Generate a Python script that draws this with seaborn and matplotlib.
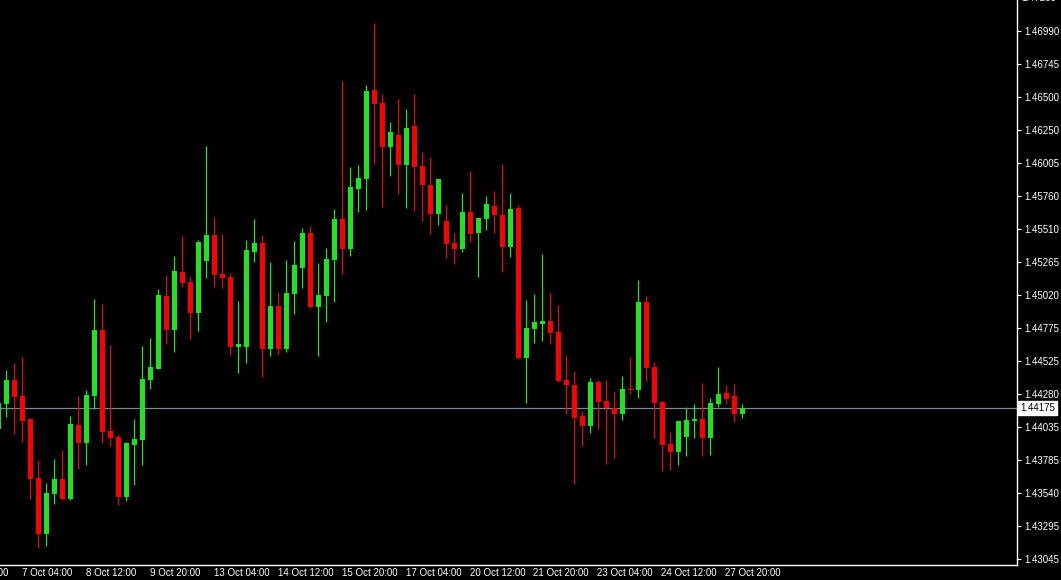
import numpy as np
import matplotlib
matplotlib.use("Agg")
import matplotlib.pyplot as plt
import matplotlib.transforms as mtransforms
import seaborn as sns

# H4 candles, oldest first (first one is cut by the left edge)
opens = [1.44015, 1.44202, 1.44381, 1.44262, 1.44090, 1.43649, 1.43231, 1.43530, 1.43642, 1.43493,
         1.44045, 1.43911, 1.44262, 1.44755, 1.44000, 1.43956, 1.43507, 1.43896, 1.43933, 1.44381,
         1.44464, 1.45009, 1.44755, 1.45188, 1.45115, 1.44882, 1.45270, 1.45465, 1.45173, 1.45151,
         1.44628, 1.44628, 1.45338, 1.45405, 1.44613, 1.44934, 1.44613, 1.45024, 1.45218, 1.45480,
         1.44927, 1.45009, 1.45278, 1.45584, 1.45360, 1.45808, 1.45885, 1.46550, 1.46453, 1.46124,
         1.46214, 1.45989, 1.46281, 1.45982, 1.45838, 1.45621, 1.45569, 1.45405, 1.45360, 1.45636,
         1.45480, 1.45584, 1.45681, 1.45614, 1.45375, 1.45666, 1.44546, 1.44762, 1.44800, 1.44822,
         1.44740, 1.44381, 1.44344, 1.44113, 1.44038, 1.44366, 1.44225, 1.44172, 1.44127, 1.44314,
         1.44307, 1.44964, 1.44479, 1.44217, 1.43903, 1.43844, 1.43956, 1.44075, 1.44090, 1.43948,
         1.44202, 1.44284, 1.44262, 1.44127]
highs = [1.44210, 1.44456, 1.44508, 1.44553, 1.44090, 1.43784, 1.43612, 1.43791, 1.43861, 1.44113,
         1.44262, 1.44307, 1.44987, 1.44949, 1.44643, 1.43978, 1.43918, 1.44090, 1.44635, 1.44695,
         1.45061, 1.45166, 1.45308, 1.45457, 1.45151, 1.45427, 1.46131, 1.45599, 1.45472, 1.45181,
         1.44972, 1.45427, 1.45584, 1.45465, 1.45263, 1.45039, 1.45278, 1.45420, 1.45517, 1.45532,
         1.45255, 1.45367, 1.45659, 1.46617, 1.45975, 1.45989, 1.46587, 1.47050, 1.46520, 1.46311,
         1.46482, 1.46408, 1.46520, 1.46087, 1.46049, 1.45885, 1.45689, 1.45480, 1.45778, 1.45945,
         1.45592, 1.45756, 1.45793, 1.45997, 1.45778, 1.45689, 1.44979, 1.45024, 1.45323, 1.45031,
         1.44942, 1.44568, 1.44449, 1.44150, 1.44396, 1.44381, 1.44381, 1.44299, 1.44411, 1.44553,
         1.45128, 1.45009, 1.44516, 1.44225, 1.43993, 1.44075, 1.44180, 1.44202, 1.44359, 1.44247,
         1.44479, 1.44344, 1.44352, 1.44202]
lows = [1.44015, 1.44105, 1.43978, 1.43918, 1.43493, 1.43126, 1.43141, 1.43455, 1.43485, 1.43485,
        1.43717, 1.43746, 1.44165, 1.43911, 1.43888, 1.43448, 1.43478, 1.43597, 1.43746, 1.44314,
        1.44464, 1.44650, 1.44591, 1.45076, 1.44688, 1.44747, 1.45143, 1.45076, 1.45069, 1.44568,
        1.44434, 1.44508, 1.45263, 1.44404, 1.44561, 1.44576, 1.44591, 1.44874, 1.45069, 1.44919,
        1.44561, 1.44815, 1.44964, 1.45173, 1.45308, 1.45636, 1.45651, 1.45997, 1.45674, 1.45907,
        1.45771, 1.45666, 1.45644, 1.45569, 1.45472, 1.45539, 1.45293, 1.45248, 1.45338, 1.45412,
        1.45151, 1.45502, 1.45480, 1.45188, 1.45300, 1.44538, 1.44210, 1.44658, 1.44673, 1.44650,
        1.44366, 1.44127, 1.43605, 1.43888, 1.43986, 1.44015, 1.43754, 1.43799, 1.44083, 1.44277,
        1.44247, 1.44374, 1.43948, 1.43702, 1.43709, 1.43746, 1.43814, 1.43948, 1.43814, 1.43821,
        1.44180, 1.44202, 1.44068, 1.44098]
closes = [1.44210, 1.44381, 1.44254, 1.44075, 1.43642, 1.43231, 1.43537, 1.43642, 1.43493, 1.44053,
          1.43911, 1.44269, 1.44755, 1.43993, 1.43948, 1.43507, 1.43911, 1.43941, 1.44389, 1.44479,
          1.45016, 1.44755, 1.45196, 1.45106, 1.44882, 1.45412, 1.45465, 1.45166, 1.45143, 1.44628,
          1.44650, 1.45353, 1.45405, 1.44613, 1.44934, 1.44613, 1.45031, 1.45240, 1.45480, 1.44927,
          1.45016, 1.45285, 1.45584, 1.45360, 1.45823, 1.45892, 1.46542, 1.46445, 1.46124, 1.46236,
          1.45989, 1.46266, 1.45975, 1.45838, 1.45621, 1.45885, 1.45397, 1.45360, 1.45636, 1.45472,
          1.45592, 1.45696, 1.45614, 1.45375, 1.45659, 1.44546, 1.44770, 1.44815, 1.44822, 1.44732,
          1.44374, 1.44344, 1.44098, 1.44038, 1.44366, 1.44217, 1.44172, 1.44127, 1.44314, 1.44307,
          1.44964, 1.44471, 1.44210, 1.43896, 1.43844, 1.44075, 1.44083, 1.44090, 1.43948, 1.44210,
          1.44277, 1.44239, 1.44127, 1.44175]

bid = 1.44175

price_ticks = [1.46990, 1.46745, 1.46500, 1.46250, 1.46005, 1.45760, 1.45510, 1.45265, 1.45020,
               1.44775, 1.44525, 1.44280, 1.44035, 1.43785, 1.43540, 1.43295, 1.43045]
time_labels = ["6 Oct 20:00", "7 Oct 04:00", "8 Oct 12:00", "9 Oct 20:00", "13 Oct 04:00",
               "14 Oct 12:00", "15 Oct 20:00", "17 Oct 04:00", "20 Oct 12:00", "21 Oct 20:00",
               "23 Oct 04:00", "24 Oct 12:00", "27 Oct 20:00"]
time_label_bars = [-5, 3, 11, 19, 27, 35, 43, 51, 59, 67, 75, 83, 91]

sns.set_theme(style="dark", rc={"axes.facecolor": "black", "figure.facecolor": "black",
                                "axes.edgecolor": "white", "text.color": "white",
                                "xtick.color": "white", "ytick.color": "white"})
plt.rcParams["font.family"] = ["Liberation Sans", "DejaVu Sans"]
FS = 7.0

o = np.array(opens)
h = np.array(highs)
l = np.array(lows)
c = np.array(closes)
x = np.arange(len(o))
up = c >= o

fig = plt.figure(figsize=(10.61, 5.80), dpi=100)
ax = fig.add_axes([0, 15 / 580, 1017 / 1061, 565 / 580])

# wicks
ax.vlines(x[up], l[up], h[up], color="#00ff00", lw=0.8, zorder=2)
ax.vlines(x[~up], l[~up], h[~up], color="#ff0000", lw=0.8, zorder=2)
# bodies
body_low = np.minimum(o, c)
body_h = np.maximum(np.abs(c - o), 0.00008)
ax.bar(x[up], body_h[up], bottom=body_low[up], width=0.62, color="#1ee41e", lw=0, zorder=3)
ax.bar(x[~up], body_h[~up], bottom=body_low[~up], width=0.62, color="#ff0000", lw=0, zorder=3)

# bid line
ax.axhline(bid, color="#778899", lw=0.9, zorder=1)

ax.set_xlim(0.21, 127.34)
ax.set_ylim(1.43001, 1.47222)
ax.grid(False)

for s in ["top", "left"]:
    ax.spines[s].set_visible(False)
for s in ["right", "bottom"]:
    ax.spines[s].set_color("white")
    ax.spines[s].set_linewidth(1.0)

ax.yaxis.tick_right()
ax.set_yticks(price_ticks)
ax.set_yticklabels([f"{p:.5f}" for p in price_ticks])
ax.tick_params(axis="y", which="major", length=3, width=0.8, pad=2, labelsize=FS,
               colors="white", direction="out")

ax.set_xticks(time_label_bars[1:])
ax.set_xticklabels([])
ax.tick_params(axis="x", which="major", length=4, width=0.8, colors="white", direction="out")

xform = mtransforms.blended_transform_factory(ax.transData, ax.transAxes)
for pos, lab in zip(time_label_bars, time_labels):
    ax.text(pos - 0.1, -0.005, lab, transform=xform, ha="left", va="top",
            fontsize=FS, color="white", clip_on=False)

yform = mtransforms.blended_transform_factory(ax.transAxes, ax.transData)
# partially hidden label above the top edge
ax.text(1.0045, 1.47235, "1.47235", transform=yform, ha="left", va="center",
        fontsize=FS, color="white", clip_on=False)
# current price tag
ax.text(1.003, bid, f"{bid:.5f}", transform=yform, ha="left", va="center",
        fontsize=FS, color="black", clip_on=False, zorder=5,
        bbox=dict(boxstyle="square,pad=0.2", fc="white", ec="white"))

fig.savefig("out.png", dpi=100, facecolor="black")
